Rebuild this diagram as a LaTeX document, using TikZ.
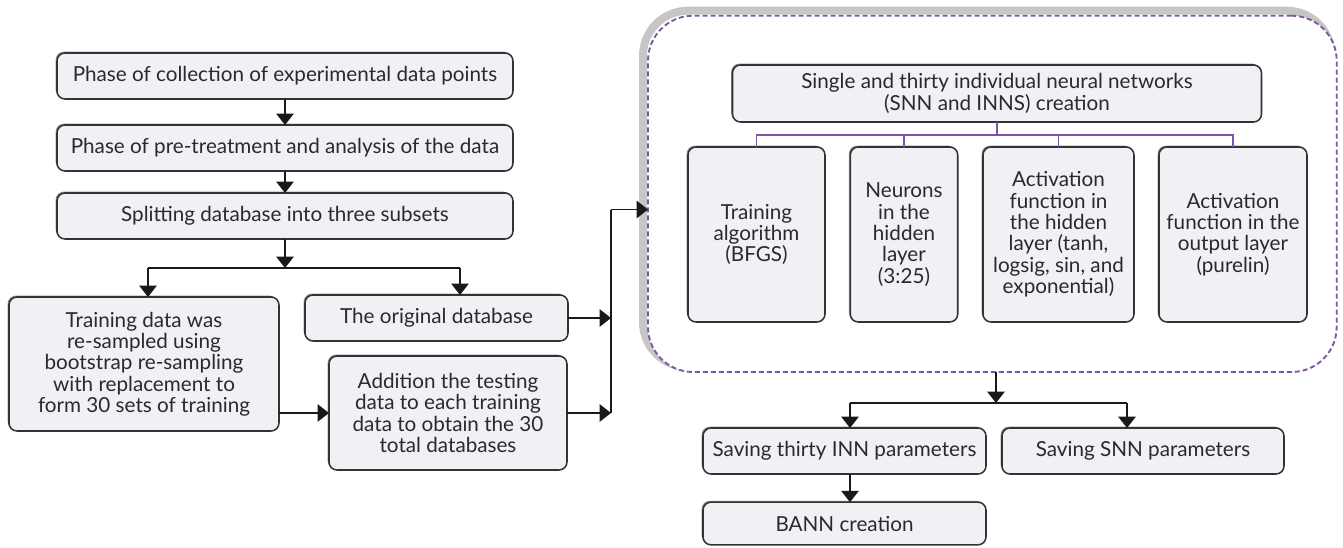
\documentclass[tikz,border=0pt]{standalone}
\usepackage{fontspec}
\setmainfont{Lato}
\usetikzlibrary{arrows.meta,shadows}
\definecolor{boxfill}{HTML}{F1F0F5}
\definecolor{boxline}{HTML}{333333}
\definecolor{txt}{HTML}{2A2A2A}
\definecolor{purp}{HTML}{7E55A9}
\definecolor{band}{HTML}{C6C6C6}
\begin{document}
\begin{tikzpicture}[x=0.75pt,y=-0.75pt,
  box/.style={draw=boxline, line width=1.15pt, fill=boxfill, rounded corners=6pt,
    align=center, inner sep=2pt, outer sep=0pt, text=txt,
    font=\fontsize{15.5}{16}\selectfont,
    general shadow={fill=black!45, shadow xshift=-1pt, shadow yshift=1pt}},
  conn/.style={draw=black!90, line width=1.2pt},
  arr/.style={conn, -{Triangle[length=8.5pt,width=13pt]}},
  tree/.style={draw=purp, line width=1.4pt}]
\useasboundingbox (0,0) rectangle (1343,547);
% ---------- left column ----------
\node[box, minimum width=342pt, minimum height=34.5pt] (p1) at (285,76) {Phase of collection of experimental data points};
\node[box, minimum width=342pt, minimum height=34.5pt] (p2) at (285,148) {Phase of pre-treatment and analysis of the data};
\node[box, minimum width=342pt, minimum height=34.5pt] (p3) at (285,216) {Splitting database into three subsets};
\coordinate (sp) at (285,268);
\coordinate (spL) at (148,268);
\coordinate (spR) at (460,268);
\node[box, minimum width=202.5pt, minimum height=100.5pt] (train) at (144,364) {Training data was\\re-sampled using\\bootstrap re-sampling\\with replacement to\\form 30 sets of training};
\node[box, minimum width=197.25pt, minimum height=34.5pt] (orig) at (436.5,318) {The original database};
\node[box, minimum width=178.5pt, minimum height=85.5pt] (add) at (448,413) {Addition the testing\\data to each training\\data to obtain the 30\\total databases};
\draw[arr] (p1) -- (p2);
\draw[arr] (p2) -- (p3);
\draw[arr] (p3) -- (sp);
\draw[conn] (spL) -- (spR);
\draw[arr] (spL) -- (spL |- train.north);
\draw[arr] (spR) -- (spR |- orig.north);
\draw[arr] (add.west -| train.east) -- (add.west);
\coordinate (vbot) at (611,413);
\coordinate (vmid) at (611,318);
\coordinate (vtop) at (611,209.5);
\draw[arr] (orig.east) -- (vmid);
\draw[arr] (add.east) -- (vbot);
% ---------- dashed group ----------
\draw[band, line width=6pt, rounded corners=33.75pt] (643,10.7) rectangle (1331.7,367);
\node[draw=purp, line width=1.4pt, dash pattern=on 3.8pt off 2.2pt, fill=white,
  rounded corners=33.75pt, minimum width=516.5pt, minimum height=267.2pt,
  inner sep=0pt, outer sep=0pt] (grp) at (992.35,193.85) {};
\draw[conn] (vbot) -- (vtop);
\draw[arr] (vtop) -- (vtop -| grp.west);
\node[box, minimum width=396.75pt, minimum height=42.75pt] (top) at (997,93.5) {Single and thirty individual neural networks\\(SNN and INNS) creation};
\node[box, minimum width=102.75pt, minimum height=131.25pt] (b1) at (756.5,234.5) {Training\\algorithm\\(BFGS)};
\node[box, minimum width=80.6pt, minimum height=131.25pt] (b2) at (904,234.5) {Neurons\\in the\\hidden\\layer\\(3:25)};
\node[box, minimum width=113.25pt, minimum height=131.25pt] (b3) at (1058.5,234.5) {Activation\\function in\\the hidden\\layer (tanh,\\logsig, sin, and\\exponential)};
\node[box, minimum width=111pt, minimum height=131.25pt] (b4) at (1233,234.5) {Activation\\function in the\\output layer\\(purelin)};
\coordinate (tj) at (997,135);
\draw[tree] (top.south) -- (tj);
\draw[tree] (b1.north) -- (b1.north |- tj) -- (b4.north |- tj) -- (b4.north);
\draw[tree] (b2.north) -- (b2.north |- tj);
\draw[tree] (b3.north) -- (b3.north |- tj);
% ---------- bottom ----------
\coordinate (bs) at (996,403);
\coordinate (bL) at (850,403);
\coordinate (bR) at (1127,403);
\node[box, minimum width=212.25pt, minimum height=34.5pt] (inn) at (844.5,451) {Saving thirty INN parameters};
\node[box, minimum width=211.5pt, minimum height=34.5pt] (snn) at (1143,451) {Saving SNN parameters};
\node[box, minimum width=212.25pt, minimum height=32pt] (bann) at (844.5,523.5) {BANN creation};
\draw[arr] (bs |- grp.south) -- (bs);
\draw[conn] (bL) -- (bR);
\draw[arr] (bL) -- (bL |- inn.north);
\draw[arr] (bR) -- (bR |- snn.north);
\draw[arr] (bL |- inn.south) -- (bL |- bann.north);
\end{tikzpicture}
\end{document}
